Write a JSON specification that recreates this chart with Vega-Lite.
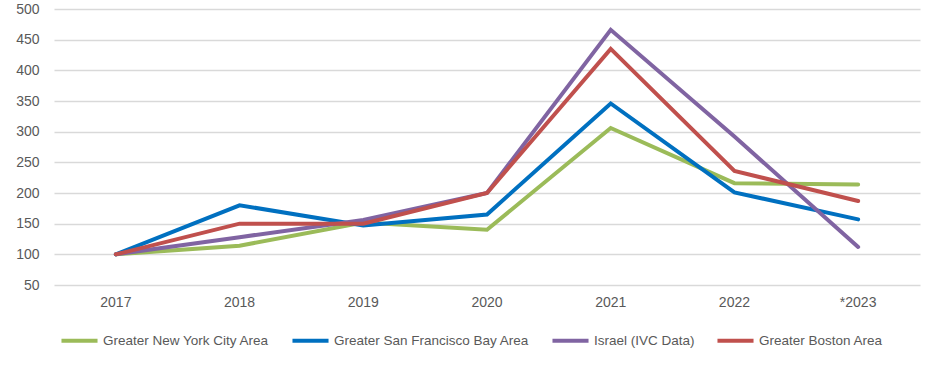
{
  "$schema": "https://vega.github.io/schema/vega-lite/v6.json",
  "width": 866,
  "height": 276,
  "autosize": {"type": "none"},
  "padding": {"left": 54, "top": 9, "right": 20, "bottom": 82},
  "background": "white",
  "config": {
    "view": {"stroke": null},
    "font": "Liberation Sans",
    "axis": {"labelFont": "Liberation Sans", "labelColor": "#595959", "labelFontSize": 14},
    "legend": {"labelFont": "Liberation Sans", "labelColor": "#595959", "labelFontSize": 13.5}
  },
  "data": {
    "values": [
      {"year": "2017", "series": "Greater New York City Area", "value": 100},
      {"year": "2018", "series": "Greater New York City Area", "value": 114},
      {"year": "2019", "series": "Greater New York City Area", "value": 152},
      {"year": "2020", "series": "Greater New York City Area", "value": 140},
      {"year": "2021", "series": "Greater New York City Area", "value": 306},
      {"year": "2022", "series": "Greater New York City Area", "value": 216},
      {"year": "2023", "series": "Greater New York City Area", "value": 214},
      {"year": "2017", "series": "Greater San Francisco Bay Area", "value": 100},
      {"year": "2018", "series": "Greater San Francisco Bay Area", "value": 180},
      {"year": "2019", "series": "Greater San Francisco Bay Area", "value": 147},
      {"year": "2020", "series": "Greater San Francisco Bay Area", "value": 165},
      {"year": "2021", "series": "Greater San Francisco Bay Area", "value": 346},
      {"year": "2022", "series": "Greater San Francisco Bay Area", "value": 201},
      {"year": "2023", "series": "Greater San Francisco Bay Area", "value": 157},
      {"year": "2017", "series": "Israel (IVC Data)", "value": 100},
      {"year": "2018", "series": "Israel (IVC Data)", "value": 128},
      {"year": "2019", "series": "Israel (IVC Data)", "value": 156},
      {"year": "2020", "series": "Israel (IVC Data)", "value": 200},
      {"year": "2021", "series": "Israel (IVC Data)", "value": 466},
      {"year": "2022", "series": "Israel (IVC Data)", "value": 292},
      {"year": "2023", "series": "Israel (IVC Data)", "value": 112},
      {"year": "2017", "series": "Greater Boston Area", "value": 100},
      {"year": "2018", "series": "Greater Boston Area", "value": 150},
      {"year": "2019", "series": "Greater Boston Area", "value": 150},
      {"year": "2020", "series": "Greater Boston Area", "value": 200},
      {"year": "2021", "series": "Greater Boston Area", "value": 435},
      {"year": "2022", "series": "Greater Boston Area", "value": 236},
      {"year": "2023", "series": "Greater Boston Area", "value": 187}
    ]
  },
  "mark": {"type": "line", "strokeWidth": 4, "strokeJoin": "miter", "strokeCap": "round"},
  "encoding": {
    "x": {
      "field": "year", "type": "ordinal",
      "scale": {"type": "band", "paddingInner": 0, "paddingOuter": 0},
      "axis": {"title": null, "labelAngle": 0, "ticks": false, "domain": false, "grid": false, "labelPadding": 10,
               "labelExpr": "datum.value == '2023' ? '*2023' : datum.label"}
    },
    "y": {
      "field": "value", "type": "quantitative",
      "scale": {"domain": [50, 500], "nice": false, "zero": false},
      "axis": {"title": null, "values": [50, 100, 150, 200, 250, 300, 350, 400, 450, 500], "ticks": false, "domain": false, "gridColor": "#d9d9d9", "gridWidth": 1.5, "labelPadding": 15}
    },
    "color": {
      "field": "series", "type": "nominal",
      "sort": ["Greater New York City Area", "Greater San Francisco Bay Area", "Israel (IVC Data)", "Greater Boston Area"],
      "scale": {
        "domain": ["Greater New York City Area", "Greater San Francisco Bay Area", "Israel (IVC Data)", "Greater Boston Area"],
        "range": ["#9BBB59", "#0070C0", "#8064A2", "#C0504D"]
      },
      "legend": {
        "title": null, "orient": "none", "direction": "horizontal", "legendX": 5, "legendY": 311,
        "symbolType": "stroke", "symbolSize": 1300, "symbolStrokeWidth": 4,
        "labelOffset": 3, "columnPadding": 14, "labelLimit": 400
      }
    }
  }
}
